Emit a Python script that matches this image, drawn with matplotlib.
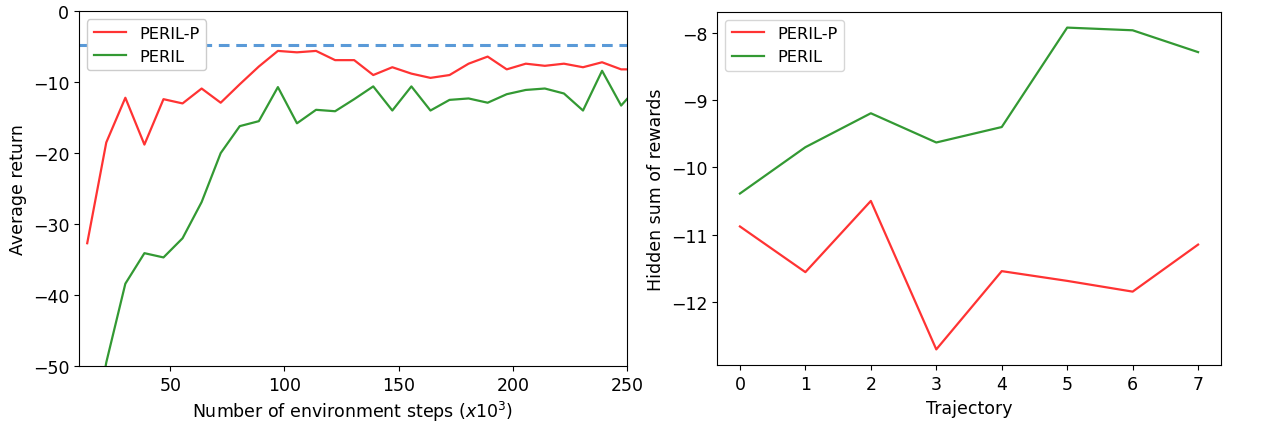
import numpy as np
import matplotlib
matplotlib.use('Agg')
import matplotlib.pyplot as plt

plt.rcParams['font.size'] = 12.5
plt.rcParams['legend.fontsize'] = 11.7

# environment steps (x10^3), evenly spaced samples
steps = np.linspace(13.6, 255.8, 30)

# average return, left panel
peril_p_return = [-32.7, -18.5, -12.2, -18.8, -12.4, -13.0, -10.9, -12.9, -10.3, -7.8,
                  -5.6, -5.8, -5.6, -6.9, -6.9, -9.0, -7.9, -8.8, -9.4, -9.0,
                  -7.4, -6.4, -8.2, -7.4, -7.7, -7.4, -7.9, -7.2, -8.2, -8.2]
peril_return = [-65.0, -49.5, -38.4, -34.1, -34.7, -32.0, -26.9, -20.0, -16.2, -15.5,
                -10.7, -15.8, -13.9, -14.1, -12.4, -10.6, -14.0, -10.6, -14.0, -12.5,
                -12.3, -12.9, -11.7, -11.1, -10.9, -11.6, -14.0, -8.4, -13.3, -10.3]
expert_return = -4.8

# hidden sum of rewards, right panel
trajectory = [0, 1, 2, 3, 4, 5, 6, 7]
peril_p_hidden = [-10.88, -11.56, -10.50, -12.71, -11.545, -11.69, -11.85, -11.15]
peril_hidden = [-10.39, -9.70, -9.195, -9.63, -9.40, -7.92, -7.96, -8.285]

fig = plt.figure(figsize=(12.72, 4.27), dpi=100)
ax1 = fig.add_axes([0.0621, 0.1405, 0.4308, 0.8310])
ax2 = fig.add_axes([0.5637, 0.1417, 0.3962, 0.8290])

# left
ax1.plot(steps, peril_p_return, color='r', alpha=0.8, lw=1.6, label='PERIL-P')
ax1.plot(steps, peril_return, color='g', alpha=0.8, lw=1.6, label='PERIL')
ax1.axhline(expert_return, color='#5a9ad8', lw=2.2, linestyle='--',
            dashes=(3.5, 2.2))
ax1.set_xlim(10, 250)
ax1.set_ylim(-50, 0)
ax1.set_xlabel(r'Number of environment steps ($x10^3$)')
ax1.set_ylabel('Average return')
ax1.legend(loc='upper left', framealpha=1)

# right
ax2.plot(trajectory, peril_p_hidden, color='r', alpha=0.8, lw=1.6, label='PERIL-P')
ax2.plot(trajectory, peril_hidden, color='g', alpha=0.8, lw=1.6, label='PERIL')
ax2.set_xlabel('Trajectory')
ax2.set_ylabel('Hidden sum of rewards')
ax2.legend(loc='upper left')

plt.savefig('out.png', dpi=100)
